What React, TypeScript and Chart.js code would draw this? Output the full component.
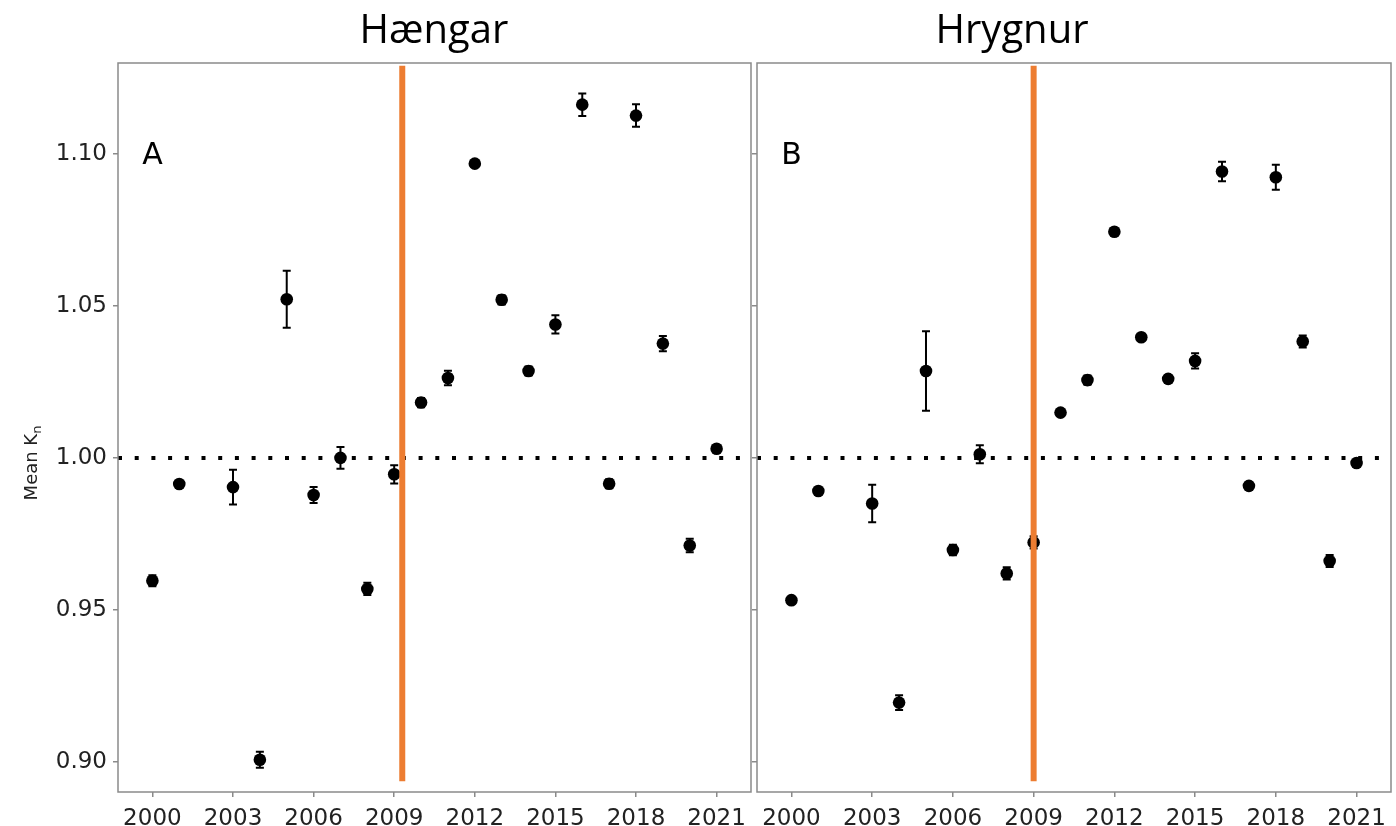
import React, { useEffect, useRef } from 'react';
import { Chart, registerables } from 'chart.js';

Chart.register(...registerables);

// ---------- data ----------
const years = [2000, 2001, 2003, 2004, 2005, 2006, 2007, 2008, 2009, 2010, 2011, 2012, 2013, 2014, 2015, 2016, 2017, 2018, 2019, 2020, 2021];
const tickYears = [2000, 2003, 2006, 2009, 2012, 2015, 2018, 2021];
const yTicks = [0.9, 0.95, 1.0, 1.05, 1.1];

const hangarMean = [0.9596, 0.9914, 0.9904, 0.9007, 1.0522, 0.9878, 1.0, 0.9569, 0.9946, 1.0182, 1.0263, 1.0968, 1.052, 1.0286, 1.0439, 1.1162, 0.9915, 1.1126, 1.0376, 0.9712, 1.003];
const hangarErr = [0.0018, 0.001, 0.0057, 0.0026, 0.0094, 0.0026, 0.0036, 0.002, 0.003, 0.0015, 0.0024, 0.001, 0.0015, 0.0015, 0.003, 0.0037, 0.0015, 0.0037, 0.0025, 0.0022, 0.001];

const hrygnurMean = [0.9532, 0.9891, 0.985, 0.9195, 1.0286, 0.9697, 1.0012, 0.962, 0.9722, 1.0149, 1.0256, 1.0744, 1.0397, 1.026, 1.0319, 1.0942, 0.9908, 1.0923, 1.0383, 0.9661, 0.9983];
const hrygnurErr = [0.0008, 0.0008, 0.0062, 0.0024, 0.0131, 0.0017, 0.003, 0.002, 0.002, 0.0008, 0.0015, 0.0008, 0.001, 0.0012, 0.0025, 0.0032, 0.0012, 0.0041, 0.002, 0.002, 0.001];

const hangarCut = 2009.3;
const hrygnurCut = 2009.0;
const refLevel = 1.0;
const cutSpan = [0.8936, 1.129];
const xRange = [1998.72, 2022.28];
const yRange = [0.8901, 1.1299];

const panelTitles = ['Hængar', 'Hrygnur'];
const panelLetters = ['A', 'B'];
const yAxisLabel = ['Mean K', 'n'];

// ---------- helpers ----------
const FRAME = '#8a8a8a';
const TICKFONT = { family: 'DejaVu Sans', size: 23 };

function buildChart(
  canvas: HTMLCanvasElement,
  opts: {
    means: number[];
    errs: number[];
    cut: number;
    title: string;
    titleX: number;
    letter: string;
    yWidth: number;
    padRight: number;
    showYLabels: boolean;
    drawYTitle: boolean;
  }
) {
  const decor = {
    id: 'decor' + opts.letter,
    beforeDatasetsDraw(chart: any) {
      const ctx = chart.ctx;
      const xs = chart.scales.x;
      const ys = chart.scales.y;
      ctx.save();
      ctx.strokeStyle = '#000';
      ctx.lineWidth = 2;
      years.forEach((yr, i) => {
        const e = opts.errs[i];
        const px = xs.getPixelForValue(yr);
        const top = ys.getPixelForValue(opts.means[i] + e);
        const bot = ys.getPixelForValue(opts.means[i] - e);
        ctx.beginPath();
        ctx.moveTo(px, top);
        ctx.lineTo(px, bot);
        ctx.moveTo(px - 4, top);
        ctx.lineTo(px + 4, top);
        ctx.moveTo(px - 4, bot);
        ctx.lineTo(px + 4, bot);
        ctx.stroke();
      });
      ctx.restore();
    },
    afterDraw(chart: any) {
      const ctx = chart.ctx;
      const a = chart.chartArea;
      const xs = chart.scales.x;
      const ys = chart.scales.y;
      ctx.save();
      ctx.strokeStyle = FRAME;
      ctx.lineWidth = 1.5;
      ctx.strokeRect(a.left, a.top, a.right - a.left, a.bottom - a.top);
      // panel title
      ctx.fillStyle = '#000';
      ctx.font = '40px "Open Sans"';
      ctx.textAlign = 'center';
      ctx.textBaseline = 'alphabetic';
      ctx.fillText(opts.title, opts.titleX, 43);
      // panel letter
      ctx.font = '30px "DejaVu Sans"';
      ctx.textBaseline = 'middle';
      ctx.fillText(opts.letter, xs.getPixelForValue(years[0]), ys.getPixelForValue(yTicks[4]) + 2);
      // y axis title
      if (opts.drawYTitle) {
        ctx.translate(31, 463);
        ctx.rotate(-Math.PI / 2);
        ctx.font = '18px "DejaVu Sans"';
        ctx.fillStyle = '#222';
        const w1 = ctx.measureText(yAxisLabel[0]).width;
        ctx.font = '13px "DejaVu Sans"';
        const w2 = ctx.measureText(yAxisLabel[1]).width;
        const start = -(w1 + w2) / 2;
        ctx.textAlign = 'left';
        ctx.textBaseline = 'alphabetic';
        ctx.font = '18px "DejaVu Sans"';
        ctx.fillText(yAxisLabel[0], start, 6);
        ctx.font = '13px "DejaVu Sans"';
        ctx.fillText(yAxisLabel[1], start + w1, 10);
      }
      ctx.restore();
    },
  };

  return new Chart(canvas, {
    type: 'scatter',
    data: {
      datasets: [
        {
          label: 'cut',
          data: [
            { x: opts.cut, y: cutSpan[0] },
            { x: opts.cut, y: cutSpan[1] },
          ],
          showLine: true,
          borderColor: '#ED7D31',
          borderWidth: 6,
          pointRadius: 0,
          order: 0,
        } as any,
        {
          label: 'mean',
          data: years.map((yr, i) => ({ x: yr, y: opts.means[i] })),
          pointRadius: 6.3,
          pointBackgroundColor: '#000',
          pointBorderWidth: 0,
          order: 1,
        } as any,
        {
          label: 'ref',
          data: [
            { x: xRange[0], y: refLevel },
            { x: xRange[1], y: refLevel },
          ],
          showLine: true,
          borderColor: '#000',
          borderWidth: 4,
          borderDash: [4, 12.7],
          borderCapStyle: 'butt',
          pointRadius: 0,
          order: 2,
        } as any,
      ],
    },
    options: {
      animation: false,
      responsive: false,
      events: [],
      layout: { autoPadding: false, padding: { left: 0, right: opts.padRight, top: 63, bottom: 0 } },
      plugins: { legend: { display: false }, tooltip: { enabled: false }, title: { display: false } },
      scales: {
        x: {
          type: 'linear',
          min: xRange[0],
          max: xRange[1],
          afterBuildTicks: (axis: any) => {
            axis.ticks = tickYears.map((v) => ({ value: v }));
          },
          afterFit: (axis: any) => {
            axis.height = 34;
            axis.paddingLeft = 0;
            axis.paddingRight = 0;
          },
          border: { display: false },
          grid: { drawOnChartArea: false, drawTicks: true, tickLength: 5, color: FRAME, lineWidth: 1.5 },
          ticks: { font: TICKFONT, color: '#222', padding: 8, maxRotation: 0, autoSkip: false, callback: (v: any) => String(v) },
        },
        y: {
          type: 'linear',
          min: yRange[0],
          max: yRange[1],
          afterBuildTicks: (axis: any) => {
            axis.ticks = yTicks.map((v) => ({ value: v }));
          },
          afterFit: (axis: any) => {
            axis.width = opts.yWidth;
            axis.paddingTop = 0;
            axis.paddingBottom = 0;
          },
          border: { display: false },
          grid: { drawOnChartArea: false, drawTicks: true, tickLength: 5, color: FRAME, lineWidth: 1.5 },
          ticks: {
            font: TICKFONT,
            color: opts.showYLabels ? '#222' : 'rgba(0,0,0,0)',
            padding: 6,
            callback: (v: any) => Number(v).toFixed(2),
          },
        },
      },
    } as any,
    plugins: [decor],
  });
}

export default function App() {
  const leftRef = useRef<HTMLCanvasElement>(null);
  const rightRef = useRef<HTMLCanvasElement>(null);

  useEffect(() => {
    const c1 = buildChart(leftRef.current!, {
      means: hangarMean,
      errs: hangarErr,
      cut: hangarCut,
      title: panelTitles[0],
      titleX: 434,
      letter: panelLetters[0],
      yWidth: 118,
      padRight: 3,
      showYLabels: true,
      drawYTitle: true,
    });
    const c2 = buildChart(rightRef.current!, {
      means: hrygnurMean,
      errs: hrygnurErr,
      cut: hrygnurCut,
      title: panelTitles[1],
      titleX: 266,
      letter: panelLetters[1],
      yWidth: 11,
      padRight: 5,
      showYLabels: false,
      drawYTitle: false,
    });
    return () => {
      c1.destroy();
      c2.destroy();
    };
  }, []);

  return (
    <div style={{ position: 'fixed', left: 0, top: 0, width: 1396, height: 826, background: '#fff' }}>
      <canvas ref={leftRef} width={754} height={826} style={{ position: 'absolute', left: 0, top: 0 }} />
      <canvas ref={rightRef} width={650} height={826} style={{ position: 'absolute', left: 746, top: 0 }} />
    </div>
  );
}
